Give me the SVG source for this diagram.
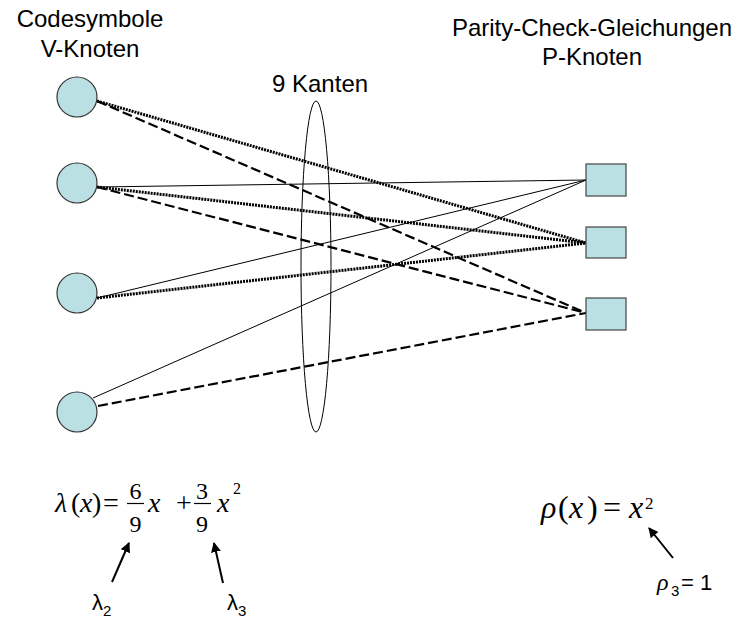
<svg xmlns="http://www.w3.org/2000/svg" width="740" height="621" viewBox="0 0 740 621">
<defs>
<style>
.lbl{font-family:"Liberation Sans",Arial,sans-serif;font-size:24px;fill:#000}
.v{fill:#bbe0e3;stroke:#333;stroke-width:1.2}
.p{fill:#bbe0e3;stroke:#444;stroke-width:1.2}
.solid{stroke:#000;stroke-width:1;fill:none}
.dot{stroke:#000;stroke-width:3;stroke-dasharray:2 1;fill:none}
.dash{stroke:#000;stroke-width:2.2;stroke-dasharray:10 4;fill:none}
.m{font-family:"Liberation Serif","Times New Roman",serif;fill:#000}
.mi{font-family:"Liberation Serif","Times New Roman",serif;font-style:italic;fill:#000}
.arr{stroke:#000;stroke-width:2;fill:none;marker-end:url(#ah)}
</style>
<marker id="ah" viewBox="0 0 10 10" refX="9" refY="5" markerWidth="5" markerHeight="5" orient="auto" markerUnits="strokeWidth">
<path d="M0,0 L10,5 L0,10 z" fill="#000"/>
</marker>
</defs>
<rect width="740" height="621" fill="#fff"/>

<text class="lbl" x="90" y="27" text-anchor="middle">Codesymbole</text>
<text class="lbl" x="90" y="57" text-anchor="middle">V-Knoten</text>
<text class="lbl" x="592" y="36" text-anchor="middle">Parity-Check-Gleichungen</text>
<text class="lbl" x="592" y="65" text-anchor="middle">P-Knoten</text>

<g id="connectors">
<line class="dot" x1="97" y1="101" x2="586" y2="243"/>
<line class="dash" x1="97" y1="101" x2="586" y2="313"/>
<line class="solid" x1="97" y1="187" x2="586" y2="180"/>
<line class="dot" x1="97" y1="187" x2="586" y2="243"/>
<line class="dash" x1="97" y1="187" x2="586" y2="313"/>
<line class="solid" x1="97" y1="298" x2="586" y2="180"/>
<line class="dot" x1="97" y1="298" x2="586" y2="243"/>
<line class="solid" x1="93" y1="398" x2="586" y2="180"/>
<line class="dash" x1="98" y1="406" x2="586" y2="313"/>
</g>

<g id="edges-group">
<ellipse cx="316" cy="266.5" rx="15" ry="165.5" fill="none" stroke="#000" stroke-width="1"/>
<text class="lbl" x="272" y="92">9 Kanten</text>
</g>

<g id="v1"><circle class="v" cx="77" cy="97" r="20"/></g>
<g id="v2"><circle class="v" cx="77" cy="183" r="20"/></g>
<g id="v3"><circle class="v" cx="77" cy="293" r="20"/></g>
<g id="v4"><circle class="v" cx="77" cy="412" r="20"/></g>

<g id="p1"><rect class="p" x="586" y="164" width="40" height="32"/></g>
<g id="p2"><rect class="p" x="586" y="227" width="40" height="31"/></g>
<g id="p3"><rect class="p" x="586" y="298" width="40" height="32"/></g>

<g id="lambda-formula" style="font-size:28px">
<text class="mi" x="55" y="512">λ</text>
<text class="m" x="71" y="512">(</text>
<text class="mi" x="80" y="512">x</text>
<text class="m" x="92" y="512">)</text>
<text class="m" x="103" y="512">=</text>
<text class="m" x="135.5" y="499" text-anchor="middle" style="font-size:24px">6</text>
<line x1="127" y1="503.5" x2="144" y2="503.5" stroke="#000" stroke-width="1.2"/>
<text class="m" x="135.5" y="532" text-anchor="middle" style="font-size:24px">9</text>
<text class="mi" x="148" y="512">x</text>
<text class="m" x="176" y="512">+</text>
<text class="m" x="202" y="499" text-anchor="middle" style="font-size:24px">3</text>
<line x1="194" y1="503.5" x2="211" y2="503.5" stroke="#000" stroke-width="1.2"/>
<text class="m" x="202" y="532" text-anchor="middle" style="font-size:24px">9</text>
<text class="mi" x="217" y="512">x</text>
<text class="m" x="233" y="494" style="font-size:16px">2</text>
</g>

<g id="lambda-arrows">
<line class="arr" x1="112" y1="582" x2="129" y2="543"/>
<line class="arr" x1="223" y1="583" x2="214" y2="543"/>
<text x="92" y="610" font-family="Liberation Sans,Arial,sans-serif" font-size="22">λ<tspan font-size="15" dy="6">2</tspan></text>
<text x="227" y="610" font-family="Liberation Sans,Arial,sans-serif" font-size="22">λ<tspan font-size="15" dy="6">3</tspan></text>
</g>

<g id="rho-formula" style="font-size:32px">
<text class="mi" x="541" y="518">ρ</text>
<text class="m" x="558" y="518">(</text>
<text class="mi" x="569" y="518">x</text>
<text class="m" x="587" y="518">)</text>
<text class="m" x="603" y="518">=</text>
<text class="mi" x="629" y="518">x</text>
<text class="m" x="645" y="509" style="font-size:17px">2</text>
<line class="arr" x1="673" y1="558" x2="649" y2="528"/>
<text x="657" y="590" font-family="Liberation Serif,serif" font-style="italic" font-size="24">ρ</text>
<text x="671" y="596" font-family="Liberation Sans,Arial,sans-serif" font-size="15">3</text>
<text x="681" y="590" font-family="Liberation Sans,Arial,sans-serif" font-size="22">= 1</text>
</g>
</svg>
